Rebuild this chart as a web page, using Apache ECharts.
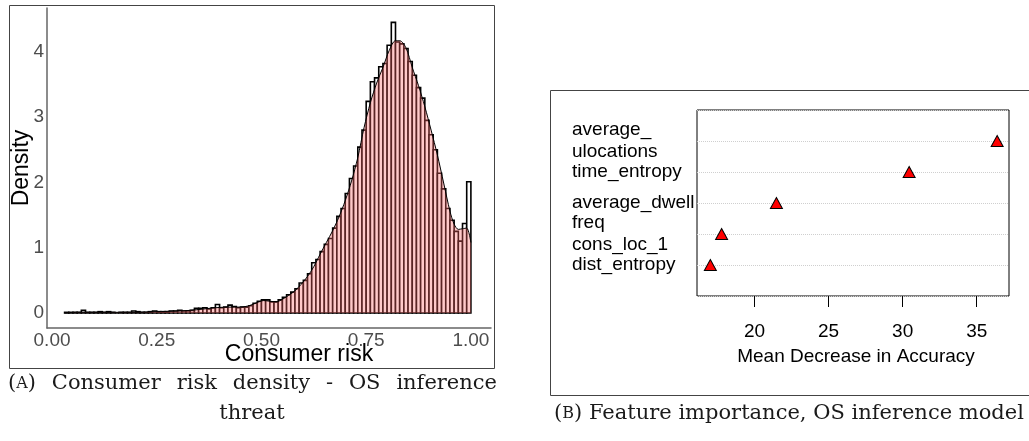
<!DOCTYPE html>
<html>
<head>
<meta charset="utf-8">
<script src="https://cdn.jsdelivr.net/npm/echarts@6.0.0/dist/echarts.min.js"></script>
<style>
  html, body { margin: 0; padding: 0; background: #fff; }
  #chart { width: 1029px; height: 441px; }
</style>
</head>
<body>
<div id="chart"></div>
<script>
// ---- Panel A: histogram of consumer risk (density scale) ----
const binStart = 0.03;
const binWidth = 0.01;
const histDensity = [
  0.01, 0.01, 0.01, 0.01, 0.04, 0.01, 0.01, 0.01, 0.02, 0.01,
  0.02, 0.01, 0.00, 0.01, 0.01, 0.01, 0.03, 0.02, 0.01, 0.01,
  0.02, 0.03, 0.02, 0.02, 0.02, 0.03, 0.03, 0.04, 0.03, 0.03,
  0.04, 0.07, 0.07, 0.08, 0.06, 0.08, 0.13, 0.08, 0.09, 0.12,
  0.10, 0.08, 0.09, 0.09, 0.11, 0.15, 0.18, 0.20, 0.20, 0.17,
  0.17, 0.20, 0.24, 0.28, 0.32, 0.37, 0.46, 0.50, 0.60, 0.77,
  0.82, 0.94, 1.05, 1.14, 1.30, 1.48, 1.60, 1.83, 2.06, 2.25,
  2.54, 2.80, 3.24, 3.54, 3.60, 3.77, 3.82, 4.10, 4.45, 4.15,
  4.12, 4.05, 3.85, 3.64, 3.45, 3.29, 2.95, 2.73, 2.50, 2.14,
  1.90, 1.60, 1.42, 1.25, 1.10, 1.37, 2.01
];

// Kernel density estimate of the same sample
const curveX = [
  0.03, 0.06, 0.10, 0.15, 0.20, 0.25, 0.30, 0.33, 0.36, 0.39,
  0.42, 0.45, 0.47, 0.49, 0.505, 0.52, 0.535, 0.55, 0.565, 0.58,
  0.595, 0.61, 0.625, 0.64, 0.655, 0.67, 0.685, 0.70, 0.715, 0.73,
  0.745, 0.76, 0.775, 0.79, 0.805, 0.82, 0.83, 0.845, 0.86, 0.875,
  0.89, 0.905, 0.92, 0.935, 0.95, 0.96, 0.97, 0.98, 0.99, 1.00
];
const curveY = [
  0.00, 0.01, 0.01, 0.01, 0.01, 0.02, 0.03, 0.04, 0.06, 0.08,
  0.09, 0.09, 0.11, 0.16, 0.19, 0.18, 0.17, 0.21, 0.27, 0.34,
  0.44, 0.56, 0.71, 0.90, 1.08, 1.26, 1.47, 1.72, 2.02, 2.38,
  2.84, 3.22, 3.52, 3.76, 4.02, 4.17, 4.17, 4.06, 3.76, 3.48,
  3.16, 2.80, 2.42, 1.99, 1.56, 1.36, 1.28, 1.29, 1.30, 1.08
];

const riskTicks = [0, 0.25, 0.5, 0.75, 1];
const densityTicks = [0, 1, 2, 3, 4];

// ---- Panel B: variable importance (bottom row first) ----
const featureLabels = [
  'dist_entropy',
  'freq\ncons_loc_1',
  'average_dwell',
  'time_entropy',
  'average_\nulocations'
];
const importance = [17.02, 17.78, 21.48, 30.44, 36.38];
const importanceTicks = [20, 25, 30, 35];

const SANS = '"Liberation Sans", Arial, sans-serif';
const SERIF = '"DejaVu Serif", serif';

const histData = histDensity.map((h, i) => [
  binStart + i * binWidth,
  binStart + (i + 1) * binWidth,
  h
]);
const curveData = curveX.map((x, i) => [x, curveY[i]]);
const importanceData = importance.map((v, i) => [v, i + 1]);

// ---- Captions (justified first line for panel A) ----
const measureCtx = document.createElement('canvas').getContext('2d');
function textWidth(str, size) {
  measureCtx.font = size + 'px ' + SERIF;
  return measureCtx.measureText(str).width;
}
const CAP_SIZE = 21;
const SC_SIZE = 16;
const capRich = { sc: { fontSize: SC_SIZE, fontFamily: SERIF, fill: '#1a1a1a' } };

function captionGraphics() {
  const out = [];
  const words = ['(A)', 'Consumer', 'risk', 'density', '-', 'OS', 'inference'];
  const widths = words.map(w => w === '(A)'
    ? textWidth('()', CAP_SIZE) + textWidth('A', SC_SIZE)
    : textWidth(w, CAP_SIZE));
  const left = 8, right = 497;
  const total = widths.reduce((a, b) => a + b, 0);
  const gap = (right - left - total) / (words.length - 1);
  let x = left;
  words.forEach((w, i) => {
    out.push({
      type: 'text', x: x, y: 384,
      style: {
        text: w === '(A)' ? '({sc|A})' : w,
        rich: capRich,
        fontSize: CAP_SIZE, fontFamily: SERIF, fill: '#1a1a1a',
        align: 'left', verticalAlign: 'middle'
      }
    });
    x += widths[i] + gap;
  });
  out.push({
    type: 'text', x: 252, y: 414,
    style: { text: 'threat', fontSize: CAP_SIZE, fontFamily: SERIF, fill: '#1a1a1a',
      align: 'center', verticalAlign: 'middle' }
  });
  out.push({
    type: 'text', x: 789, y: 414,
    style: { text: '({sc|B}) Feature importance, OS inference model', rich: capRich,
      fontSize: CAP_SIZE, fontFamily: SERIF, fill: '#1a1a1a',
      align: 'center', verticalAlign: 'middle' }
  });
  return out;
}

const chart = echarts.init(document.getElementById('chart'), null, { renderer: 'canvas' });

const option = {
  animation: false,
  backgroundColor: '#fff',
  grid: [
    { left: 47, top: 8, width: 444, height: 320 },
    { left: 697, top: 110, width: 312, height: 186, show: true,
      borderColor: '#000', borderWidth: 1, backgroundColor: 'transparent' }
  ],
  xAxis: [
    {
      gridIndex: 0, type: 'value', min: -0.012, max: 1.048,
      axisLine: { show: true, onZero: false, lineStyle: { color: '#666', width: 1.5 } },
      axisTick: { show: false },
      splitLine: { show: false },
      axisLabel: {
        customValues: riskTicks,
        formatter: v => v.toFixed(2),
        color: '#4d4d4d', fontSize: 19, fontFamily: SANS, margin: 3
      }
    },
    {
      gridIndex: 1, type: 'value', min: 16.12, max: 37.18,
      axisLine: { show: false, onZero: false },
      axisTick: { show: true, customValues: importanceTicks, length: 11,
        lineStyle: { color: '#000', width: 1 } },
      splitLine: { show: false },
      axisLabel: {
        customValues: importanceTicks,
        color: '#000', fontSize: 19, fontFamily: SANS, margin: 26
      }
    }
  ],
  yAxis: [
    {
      gridIndex: 0, type: 'value', min: -0.23, max: 4.67,
      axisLine: { show: true, onZero: false, lineStyle: { color: '#666', width: 1.5 } },
      axisTick: { show: false },
      splitLine: { show: false },
      axisLabel: {
        customValues: densityTicks,
        color: '#4d4d4d', fontSize: 19, fontFamily: SANS, margin: 3
      }
    },
    {
      gridIndex: 1, type: 'value', min: 0, max: 6, interval: 1,
      axisLine: { show: false, onZero: false },
      axisTick: { show: false },
      splitLine: { show: true, lineStyle: { color: '#cfcfcf', type: 'dotted', width: 1 } },
      axisLabel: {
        formatter: v => (v >= 1 && v <= featureLabels.length) ? featureLabels[v - 1] : '',
        align: 'left', margin: 125, lineHeight: 22,
        color: '#000', fontSize: 19, fontFamily: SANS
      }
    }
  ],
  series: [
    {
      name: 'histogram', type: 'custom', xAxisIndex: 0, yAxisIndex: 0, z: 2,
      data: histData,
      renderItem: (params, api) => {
        const p0 = api.coord([api.value(0), 0]);
        const p1 = api.coord([api.value(1), api.value(2)]);
        return {
          type: 'rect',
          shape: { x: p0[0], y: p1[1], width: p1[0] - p0[0], height: p0[1] - p1[1] },
          style: { fill: '#fff', stroke: '#000', lineWidth: 1.6 }
        };
      }
    },
    {
      name: 'density', type: 'line', xAxisIndex: 0, yAxisIndex: 0, z: 3,
      data: curveData, smooth: 0.3, symbol: 'none',
      lineStyle: { color: '#000', width: 1 },
      areaStyle: { color: 'rgba(255,102,102,0.5)' }
    },
    {
      name: 'importance', type: 'scatter', xAxisIndex: 1, yAxisIndex: 1, z: 4,
      data: importanceData, symbol: 'triangle', symbolSize: [12, 11],
      itemStyle: { color: '#ff0000', borderColor: '#000', borderWidth: 1, opacity: 1 }
    }
  ],
  graphic: [
    // outer frames of both panels
    { type: 'rect', shape: { x: 9.5, y: 5.5, width: 485, height: 363 },
      style: { fill: 'none', stroke: '#444', lineWidth: 1 }, z: 10 },
    { type: 'rect', shape: { x: 550.5, y: 90.5, width: 500, height: 305 },
      style: { fill: 'none', stroke: '#444', lineWidth: 1 }, z: 10 },
    // axis titles
    { type: 'text', x: 22, y: 168, rotation: Math.PI / 2,
      style: { text: 'Density', fontSize: 23, fontFamily: SANS, fill: '#000',
        align: 'center', verticalAlign: 'middle' } },
    { type: 'text', x: 299, y: 355,
      style: { text: 'Consumer risk', fontSize: 23, fontFamily: SANS, fill: '#000',
        align: 'center', verticalAlign: 'middle' } },
    { type: 'text', x: 856, y: 357,
      style: { text: 'Mean Decrease in Accuracy', fontSize: 19, fontFamily: SANS, fill: '#000',
        align: 'center', verticalAlign: 'middle' } }
  ].concat(captionGraphics())
};

chart.setOption(option);
</script>
</body>
</html>
